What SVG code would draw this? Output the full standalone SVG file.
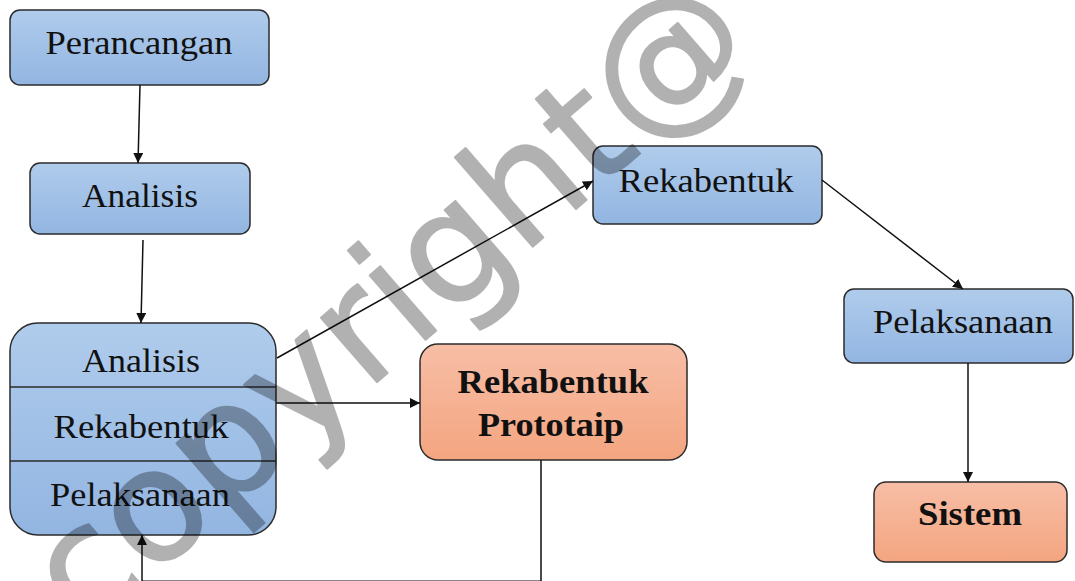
<svg xmlns="http://www.w3.org/2000/svg" width="1075" height="581" viewBox="0 0 1075 581">
  <style>
    .box { stroke: #2b2b2b; stroke-width: 1.5; }
    .blue { fill: url(#gBlue); }
    .orange { fill: url(#gOrange); }
    .lbl { font-family: "Liberation Serif", "Times New Roman", serif; font-size: 33px; fill: #111; text-anchor: middle; }
    .bold { font-weight: bold; }
    .conn { fill: none; stroke: #111; stroke-width: 1.5; }
    .wm { font-family: "DejaVu Sans", Verdana, sans-serif; font-size: 156px; fill: #000; stroke: #000; stroke-width: 2; stroke-linejoin: round; }
  </style>
  <defs>
    <linearGradient id="gBlue" x1="0" y1="0" x2="0" y2="1">
      <stop offset="0" stop-color="#b0ccec"/>
      <stop offset="1" stop-color="#92b5e1"/>
    </linearGradient>
    <linearGradient id="gOrange" x1="0" y1="0" x2="0" y2="1">
      <stop offset="0" stop-color="#f7bea6"/>
      <stop offset="1" stop-color="#f4a580"/>
    </linearGradient>
    <marker id="arrow" viewBox="0 0 10 10" refX="10" refY="5" markerWidth="10" markerHeight="10" markerUnits="userSpaceOnUse" orient="auto">
      <path d="M0,0 L10,5 L0,10 Z" fill="#111"/>
    </marker>
  </defs>

  <g id="perancangan">
    <rect class="box blue" x="10" y="10" width="259" height="75" rx="10"/>
    <text class="lbl" x="139" y="54" textLength="187" lengthAdjust="spacingAndGlyphs">Perancangan</text>
  </g>
  <g id="analisis">
    <rect class="box blue" x="30" y="163" width="220" height="71" rx="10"/>
    <text class="lbl" x="140" y="207" textLength="116" lengthAdjust="spacingAndGlyphs">Analisis</text>
  </g>
  <g id="prototype-cycle">
    <rect class="box blue" x="10" y="323" width="266" height="212" rx="28"/>
    <line class="box" x1="10" y1="387" x2="276" y2="387"/>
    <line class="box" x1="10" y1="461" x2="276" y2="461"/>
    <text class="lbl" x="141" y="372" textLength="118" lengthAdjust="spacingAndGlyphs">Analisis</text>
    <text class="lbl" x="141" y="438" textLength="175" lengthAdjust="spacingAndGlyphs">Rekabentuk</text>
    <text class="lbl" x="140" y="506" textLength="180" lengthAdjust="spacingAndGlyphs">Pelaksanaan</text>
  </g>
  <g id="rekabentuk">
    <rect class="box blue" x="593" y="146" width="229" height="78" rx="10"/>
    <text class="lbl" x="706" y="192" textLength="175" lengthAdjust="spacingAndGlyphs">Rekabentuk</text>
  </g>
  <g id="pelaksanaan">
    <rect class="box blue" x="844" y="289" width="229" height="74" rx="10"/>
    <text class="lbl" x="963" y="333" textLength="180" lengthAdjust="spacingAndGlyphs">Pelaksanaan</text>
  </g>
  <g id="rekabentuk-prototaip">
    <rect class="box orange" x="420" y="344" width="267" height="116" rx="18"/>
    <text class="lbl bold" x="553" y="393" textLength="191" lengthAdjust="spacingAndGlyphs">Rekabentuk</text>
    <text class="lbl bold" x="551" y="436" textLength="146" lengthAdjust="spacingAndGlyphs">Prototaip</text>
  </g>
  <g id="sistem">
    <rect class="box orange" x="874" y="482" width="193" height="80" rx="12"/>
    <text class="lbl bold" x="970" y="525" textLength="104" lengthAdjust="spacingAndGlyphs">Sistem</text>
  </g>

  <g id="connectors">
    <line class="conn" x1="140" y1="85" x2="138" y2="163" marker-end="url(#arrow)"/>
    <line class="conn" x1="143" y1="240" x2="141" y2="323" marker-end="url(#arrow)"/>
    <line class="conn" x1="277" y1="358" x2="593" y2="181" marker-end="url(#arrow)"/>
    <line class="conn" x1="276" y1="403" x2="420" y2="403" marker-end="url(#arrow)"/>
    <line class="conn" x1="822" y1="180" x2="963" y2="289" marker-end="url(#arrow)"/>
    <line class="conn" x1="968" y1="363" x2="968" y2="482" marker-end="url(#arrow)"/>
    <path class="conn" d="M541,460 V581.2 H142 V535" marker-end="url(#arrow)"/>
  </g>

  <g id="watermark" opacity="0.3">
    <text class="wm" transform="translate(85,636) rotate(-41)">copyright@</text>
  </g>
</svg>
